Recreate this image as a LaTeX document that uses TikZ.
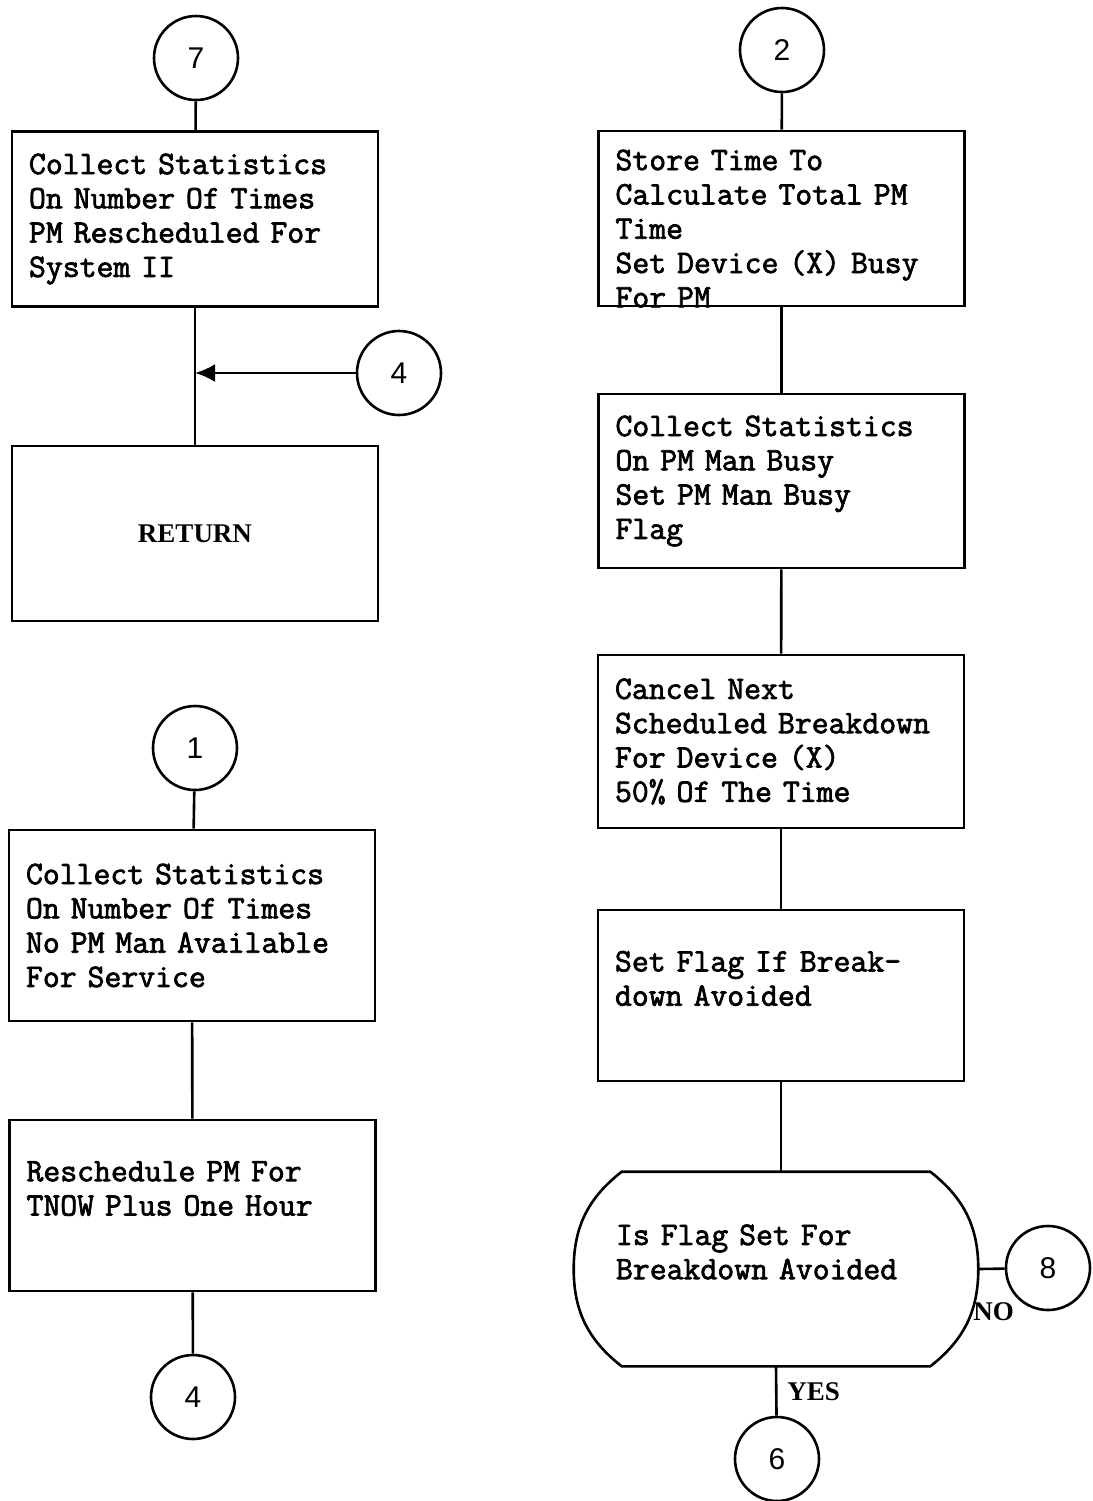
\documentclass[tikz,border=0pt]{standalone}
\usepackage{fontspec}
\usetikzlibrary{arrows.meta,positioning,calc}
\newfontfamily\typefont{Latin Modern Mono}[FakeBold=2.2]
\newfontfamily\digitfont{Liberation Sans}
\newfontfamily\labelfont{Liberation Serif}
\newcommand\boxfont{\typefont\fontsize{16.4}{17.15}\selectfont\spaceskip=0.525em\relax}
\tikzset{
  flowline/.style={line width=1.3pt},
  procbox/.style={
    draw,
    line width=1.3pt,
    inner xsep=8.5pt,
    text width=166pt,
    align=left,
    font=\boxfont
  },
  connector/.style={
    circle,
    draw,
    line width=1.3pt,
    minimum size=42pt,
    inner sep=0pt,
    font=\digitfont\fontsize{15}{17}\selectfont
  },
  branchlbl/.style={
    inner sep=0pt,
    font=\labelfont\bfseries\fontsize{13.5}{15}\selectfont
  }
}

\begin{document}
\begin{tikzpicture}[x=0.5pt,y=-0.5pt]
  \useasboundingbox (0,0) rectangle (1093,1501);

  % left column, upper part
  \node[connector] (conSeven) at (196,58) {7};
  \node[procbox, minimum height=87.5pt] (statsResched) at (195,219) {
    Collect Statistics\\
    On Number Of Times\\
    PM Rescheduled For\\
    System II};
  \node[connector] (conFourIn) at (399,373) {4};
  \node[procbox, minimum height=87.5pt, align=center, text depth=-10pt,
        font=\labelfont\bfseries\fontsize{13.5}{16}\selectfont] (ret) at (195,533.5) {RETURN};
  \draw[flowline] (conSeven) -- (statsResched);
  \draw[flowline] (statsResched) -- (ret);
  \draw[flowline, -{Latex[length=10pt,width=9pt]}] (conFourIn.west) -- (conFourIn.west -| statsResched.south);

  % left column, lower part
  \node[connector] (conOne) at (195,748) {1};
  \node[procbox, minimum height=95.5pt] (statsNoMan) at (192,925.5) {
    Collect Statistics\\
    On Number Of Times\\
    No PM Man Available\\
    For Service};
  \node[procbox, minimum height=85.5pt] (resched) at (192.5,1205.5) {
    Reschedule PM For\\
    TNOW Plus One Hour\\~};
  \node[connector] (conFourOut) at (193,1397) {4};
  \draw[flowline] (conOne) -- (statsNoMan);
  \draw[flowline] (statsNoMan) -- (resched);
  \draw[flowline] (resched) -- (conFourOut);

  % right column
  \node[connector] (conTwo) at (782,50) {2};
  \node[procbox, minimum height=87.5pt, text depth=58.6pt] (storeTime) at (781.5,218.5) {
    Store Time To\\
    Calculate Total PM\\
    Time\\
    Set Device (X) Busy\\
    For PM};
  \node[procbox, minimum height=87pt] (pmBusy) at (781.5,481) {
    Collect Statistics\\
    On PM Man Busy\\
    Set PM Man Busy\\
    Flag};
  \node[procbox, minimum height=86.5pt] (cancelBd) at (781,741.5) {
    Cancel Next\\
    Scheduled Breakdown\\
    For Device (X)\\
    50\% Of The Time};
  \node[procbox, minimum height=85.5pt] (setFlag) at (781,995.5) {
    Set Flag If Break-\\
    down Avoided\\~};
  \draw[flowline] (conTwo) -- (storeTime);
  \draw[flowline] (storeTime) -- (pmBusy);
  \draw[flowline] (pmBusy) -- (cancelBd);
  \draw[flowline] (cancelBd) -- (setFlag);

  % decision
  \node[procbox, draw=none, minimum height=96pt, inner xsep=20.5pt, text width=160pt] (flagTest) at (776,1269) {
    Is Flag Set For\\
    Breakdown Avoided\\~};
  \draw[flowline]
    ([xshift=24pt]flagTest.north west) -- ([xshift=-24pt]flagTest.north east)
    to[out=-38,in=90] (flagTest.east)
    to[out=-90,in=38] ([xshift=-24pt]flagTest.south east)
    -- ([xshift=24pt]flagTest.south west)
    to[out=142,in=-90] (flagTest.west)
    to[out=90,in=218] cycle;
  \draw[flowline] (setFlag.south) -- (setFlag.south |- flagTest.north);

  \node[connector] (conEight) at (1048,1268) {8};
  \node[connector] (conSix) at (777,1459) {6};
  \draw[flowline] (flagTest.east) -- (conEight);
  \draw[flowline] (flagTest.south) -- (conSix);
  \node[branchlbl, anchor=north west] (lblNo) at (973,1302) {NO};
  \node[branchlbl, anchor=west] (lblYes) at (787,1392) {YES};
\end{tikzpicture}
\end{document}
